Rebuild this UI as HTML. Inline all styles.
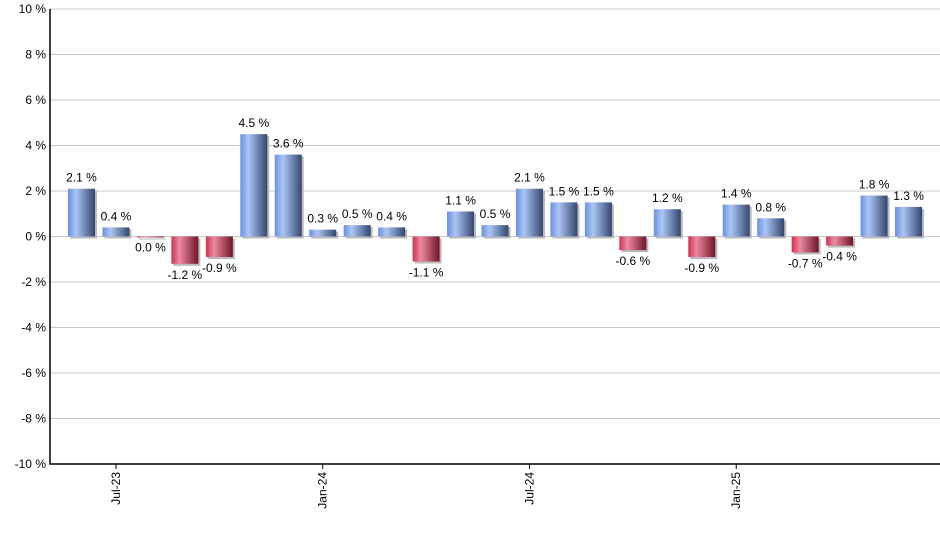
<!DOCTYPE html>
<html><head><meta charset="utf-8"><style>
body{margin:0;background:#fff;}
svg text{font-family:"Liberation Sans",Arial,sans-serif;font-size:12px;fill:#000;}
</style></head><body>
<svg id="chart" width="940" height="550" viewBox="0 0 940 550" xmlns="http://www.w3.org/2000/svg">
<defs>
<linearGradient id="gb" x1="0" x2="1" y1="0" y2="0">
<stop offset="0" stop-color="#6a90e0"/><stop offset="0.3" stop-color="#aac6f6"/><stop offset="1" stop-color="#34466e"/></linearGradient>
<linearGradient id="gr" x1="0" x2="1" y1="0" y2="0">
<stop offset="0" stop-color="#d0304f"/><stop offset="0.3" stop-color="#ec8aa0"/><stop offset="1" stop-color="#701428"/></linearGradient>
</defs>
<g id="grid"></g><g id="bars"></g><g id="axes"></g>
</svg>
<script>
const months=["Jun-23","Jul-23","Aug-23","Sep-23","Oct-23","Nov-23","Dec-23","Jan-24","Feb-24","Mar-24","Apr-24","May-24","Jun-24","Jul-24","Aug-24","Sep-24","Oct-24","Nov-24","Dec-24","Jan-25","Feb-25","Mar-25","Apr-25","May-25","Jun-25"];
const values=[2.1,0.4,0.0,-1.2,-0.9,4.5,3.6,0.3,0.5,0.4,-1.1,1.1,0.5,2.1,1.5,1.5,-0.6,1.2,-0.9,1.4,0.8,-0.7,-0.4,1.8,1.3];
const yTicks=[10,8,6,4,2,0,-2,-4,-6,-8,-10];
const xLabelMonths=["Jul-23","Jan-24","Jul-24","Jan-25"];
const NS="http://www.w3.org/2000/svg";
const L=50,R=940,T=9,B=464;
const y=v=>T+(10-v)/20*(B-T);
const step=34.46,x0=81.5;
const x=i=>x0+i*step;
function mk(t,a,p){const e=document.createElementNS(NS,t);for(const k in a)e.setAttribute(k,a[k]);p.appendChild(e);return e;}
const grid=document.getElementById('grid'),bars=document.getElementById('bars'),axes=document.getElementById('axes');
yTicks.forEach(v=>{
 const ln=mk('line',{x1:L,x2:R,y1:y(v),y2:y(v),stroke:'#c8c8c8','stroke-width':1},grid);
 
 
 const t=mk('text',{x:L-4,y:y(v)+4,'text-anchor':'end'},axes);t.textContent=v+' %';
 
 
});
values.forEach((v,i)=>{
 const cx=x(i),w=27,top=Math.min(y(v),y(0)),h=Math.max(Math.abs(y(v)-y(0)),1);
 const sh=mk('rect',{x:cx-w/2+2,y:top+2,width:w,height:h,fill:'#bbb'},bars);
 
 
 const r=mk('rect',{x:cx-w/2,y:top,width:w,height:h,fill:v>0?'url(#gb)':'url(#gr)'},bars);
 
 
 const ly=v>0?y(v)-7:y(v)+15;
 const t=mk('text',{x:cx,y:ly,'text-anchor':'middle'},bars);t.textContent=v.toFixed(1)+' %';
 
 
});
const ax=mk('path',{d:`M${L},${T} V${B} H${R}`,fill:'none',stroke:'#000','stroke-width':1.5},axes);


xLabelMonths.forEach(m=>{
 const i=months.indexOf(m),cx=x(i);
 const tk=mk('line',{x1:cx,x2:cx,y1:B,y2:B+5,stroke:'#000'},axes);
 
 
 const t=mk('text',{x:0,y:0,'text-anchor':'end',transform:`translate(${cx+4},${B+8}) rotate(-90)`},axes);t.textContent=m;
 
 
});
</script>
</body></html>
